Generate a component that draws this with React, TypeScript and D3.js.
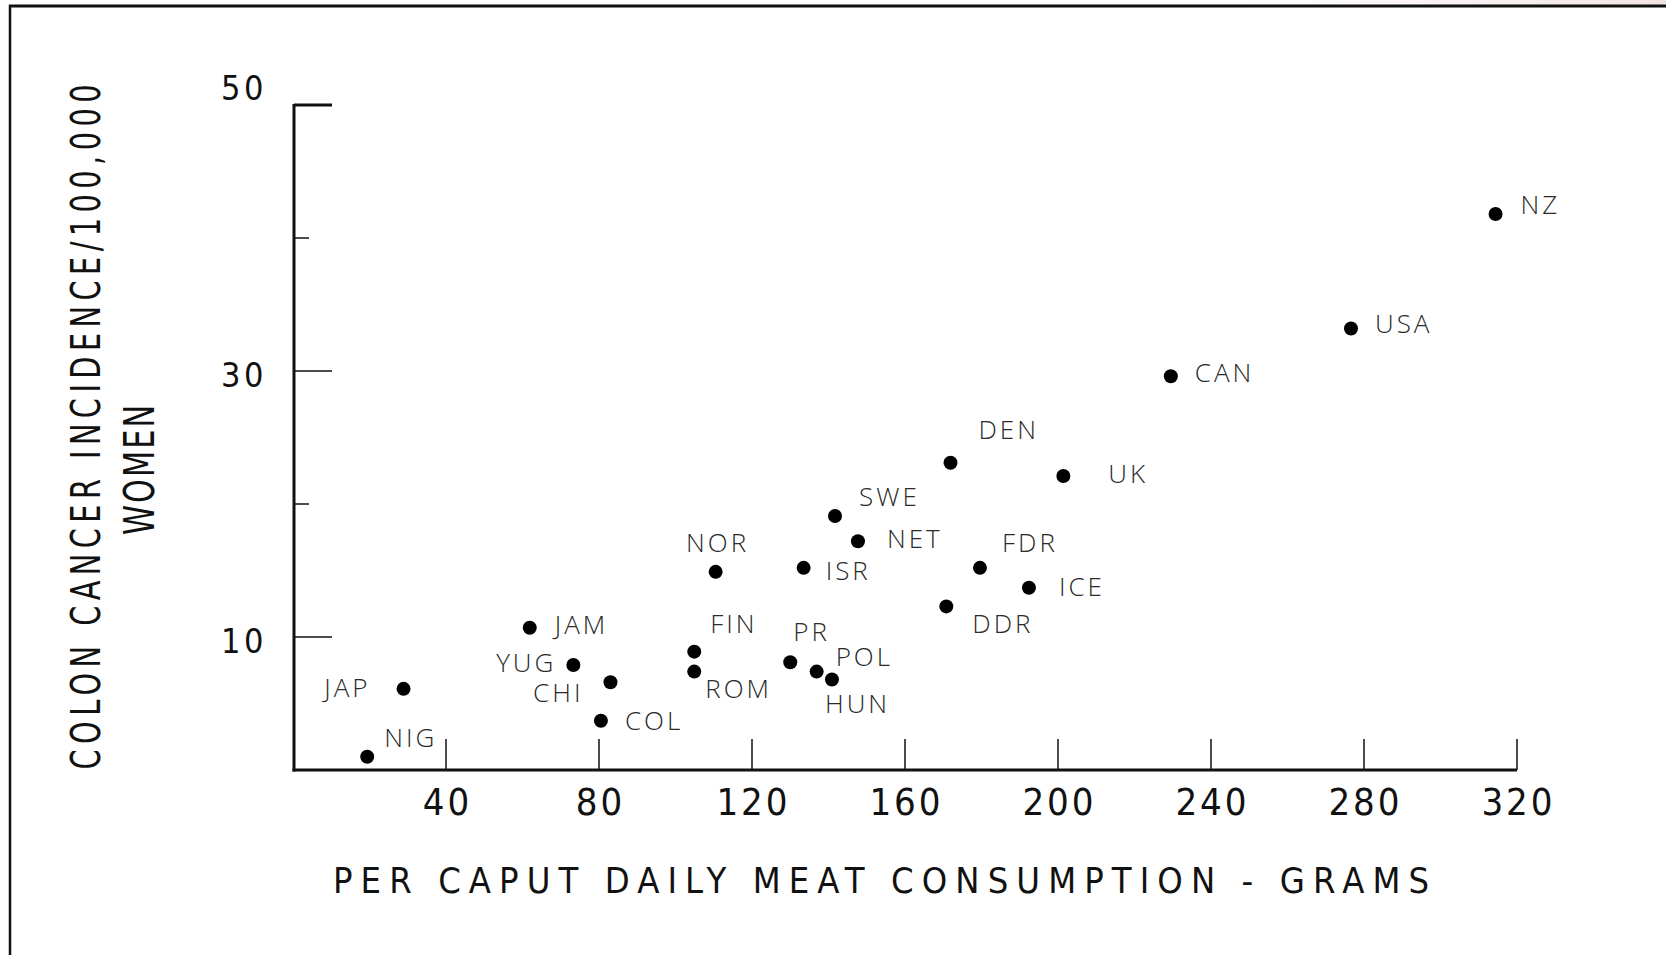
import * as d3 from "d3";

// per caput daily meat consumption (g) vs colon cancer incidence / 100,000 women
const COUNTRIES = ["NIG", "JAP", "JAM", "YUG", "CHI", "COL", "NOR", "FIN", "ROM", "PR", "POL", "HUN", "ISR", "SWE", "NET", "DEN", "UK", "FDR", "ICE", "DDR", "CAN", "USA", "NZ"];
const MEAT = [19.4, 28.9, 61.9, 73.3, 83.0, 80.5, 110.5, 104.9, 104.9, 130.0, 136.9, 140.9, 133.5, 141.7, 147.7, 171.9, 201.4, 179.6, 192.4, 170.8, 229.5, 276.6, 314.4];
const INCIDENCE = [1.0, 6.1, 10.7, 7.9, 6.6, 3.7, 14.9, 8.9, 7.4, 8.1, 7.4, 6.8, 15.2, 19.1, 17.2, 23.1, 22.1, 15.2, 13.7, 12.3, 29.6, 33.2, 41.8];

const X_TICKS = [40, 80, 120, 160, 200, 240, 280, 320];
const Y_MAJOR = [10, 30, 50];
const Y_MINOR = [20, 40];

const X_TITLE = "PER CAPUT DAILY MEAT CONSUMPTION - GRAMS";
const Y_TITLE = "COLON CANCER INCIDENCE/100,000";
const Y_SUBTITLE = "WOMEN";

// where each name sits relative to its dot: [dx, dy, anchor]
const LABEL_POS: Record<string, [number, number, string]> = {
  NIG: [17, -10, "start"],
  JAP: [-33, 8, "end"],
  JAM: [25, 6, "start"],
  YUG: [-17, 7, "end"],
  CHI: [-27, 20, "end"],
  COL: [24, 9, "start"],
  NOR: [2, -20, "middle"],
  FIN: [16, -19, "start"],
  ROM: [11, 26, "start"],
  PR: [3, -21, "start"],
  POL: [19, -6, "start"],
  HUN: [-7, 33, "start"],
  ISR: [22, 12, "start"],
  SWE: [24, -10, "start"],
  NET: [29, 7, "start"],
  DEN: [28, -24, "start"],
  UK: [45, 7, "start"],
  FDR: [22, -16, "start"],
  ICE: [30, 8, "start"],
  DDR: [26, 27, "start"],
  CAN: [24, 6, "start"],
  USA: [24, 5, "start"],
  NZ: [25, 0, "start"],
};

const W = 1666, H = 955;
const TYPE = "'DejaVu Sans Condensed', 'DejaVu Sans', sans-serif";
const LABEL_FONT = "'Open Sans', 'Noto Sans', sans-serif";
const INK = "#111";
const SQUEEZE = 0.8; // typewriter letters on the y title are narrow

export default function App() {
  const x = d3.scaleLinear().domain([0, 320]).range([293, 1517]);
  const y = d3.scaleLinear().domain([0, 50]).range([770, 105]);
  const x0 = x(0) + 1;

  const pts = COUNTRIES.map((c, i) => ({ name: c, mx: MEAT[i], inc: INCIDENCE[i] }));

  return (
    <svg width={W} height={H} viewBox={`0 0 ${W} ${H}`}
      style={{ position: "absolute", left: 0, top: 0, background: "#fff" }}>
      <defs>
        <linearGradient id="tint" x1="0" x2="1" y1="0" y2="0">
          <stop offset="0%" stopColor="#f3e4e4" stopOpacity={0} />
          <stop offset="100%" stopColor="#f3e4e4" stopOpacity={1} />
        </linearGradient>
      </defs>
      <rect x={0} y={0} width={W} height={H} fill="#fff" />
      <rect x={1250} y={0} width={416} height={5} fill="url(#tint)" />

      {/* scan frame: only top and left edges show */}
      <line x1={9} x2={W} y1={6} y2={6} stroke={INK} strokeWidth={3} />
      <line x1={10} x2={10} y1={5} y2={H} stroke={INK} strokeWidth={2.5} />

      {/* axes */}
      <line x1={x0} x2={x0} y1={y(50) - 1} y2={y(0) + 1.5} stroke={INK} strokeWidth={3} />
      <line x1={x0 - 1.5} x2={x(320)} y1={y(0)} y2={y(0)} stroke={INK} strokeWidth={3} />

      {Y_MAJOR.map(t => (
        <g key={`ym${t}`}>
          <line x1={x0} x2={x0 + 38} y1={y(t)} y2={y(t)} stroke={INK}
            strokeWidth={t === 50 ? 3 : 1.6} />
          <text x={x0 - 27} y={y(t) + (t === 50 ? -5 : 16)} textAnchor="end"
            fontFamily={TYPE} fontSize={34} letterSpacing={3.5} fill={INK}>{t}</text>
        </g>
      ))}
      {Y_MINOR.map(t => (
        <line key={`yn${t}`} x1={x0} x2={x0 + 15} y1={y(t)} y2={y(t)} stroke={INK} strokeWidth={1.5} />
      ))}

      {X_TICKS.map(t => (
        <g key={`x${t}`}>
          <line x1={x(t)} x2={x(t)} y1={y(0)} y2={y(0) - 31} stroke={INK} strokeWidth={1.5} />
          <text x={x(t) + 1.5} y={y(0) + 45} textAnchor="middle"
            fontFamily={TYPE} fontSize={38} letterSpacing={3} fill={INK}>{t}</text>
        </g>
      ))}

      {/* axis titles */}
      <text x={881} y={893} textAnchor="middle" fontFamily={TYPE} fontSize={36}
        textLength={1096} lengthAdjust="spacing" fill={INK}>{X_TITLE}</text>
      <text transform={`translate(100,427) rotate(-90) scale(${SQUEEZE},1)`} textAnchor="middle"
        fontFamily={TYPE} fontSize={40} textLength={685 / SQUEEZE}
        lengthAdjust="spacing" fill={INK}>{Y_TITLE}</text>
      <text transform={`translate(154,470) rotate(-90) scale(${SQUEEZE},1)`} textAnchor="middle"
        fontFamily={TYPE} fontSize={42} textLength={130 / SQUEEZE}
        lengthAdjust="spacing" fill={INK}>{Y_SUBTITLE}</text>

      {/* points and country names */}
      {pts.map(p => {
        const [dx, dy, anchor] = LABEL_POS[p.name];
        return (
          <g key={p.name}>
            <circle cx={x(p.mx)} cy={y(p.inc)} r={7} fill="#000" />
            <text x={x(p.mx) + dx} y={y(p.inc) + dy} textAnchor={anchor}
              fontFamily={LABEL_FONT} fontWeight={300} fontSize={26} letterSpacing={3}
              fill="#2a2a2a">{p.name}</text>
          </g>
        );
      })}
    </svg>
  );
}
